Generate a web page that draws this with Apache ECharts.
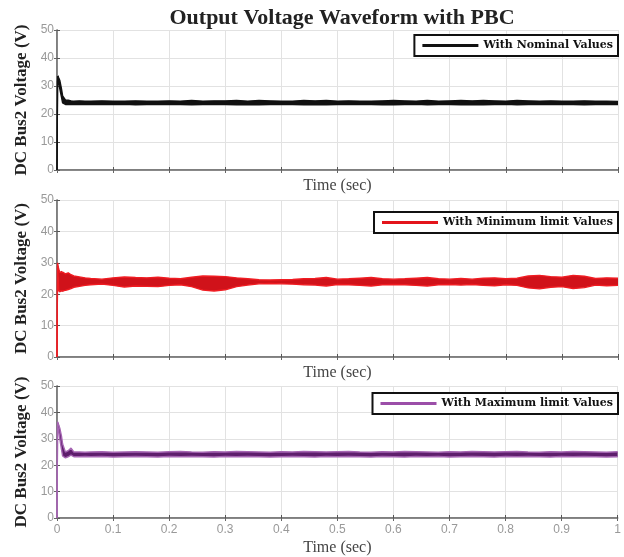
<!DOCTYPE html>
<html>
<head>
<meta charset="utf-8">
<script src="https://cdn.jsdelivr.net/npm/echarts@6/dist/echarts.min.js"></script>
<style>
html, body { margin: 0; padding: 0; background: #fff; }
#chart { width: 624px; height: 557px; }
</style>
</head>
<body>
<div id="chart"></div>
<script>
// time axis (sec), shared by all three traces
const time = [0, 0.001, 0.003, 0.005, 0.008, 0.01, 0.015, 0.02, 0.025, 0.03, 0.04, 0.05,
  0.06, 0.08, 0.1, 0.12, 0.14, 0.16, 0.18, 0.2, 0.22, 0.24,
  0.26, 0.28, 0.3, 0.32, 0.34, 0.36, 0.38, 0.4, 0.42, 0.44,
  0.46, 0.48, 0.5, 0.52, 0.54, 0.56, 0.58, 0.6, 0.62, 0.64,
  0.66, 0.68, 0.7, 0.72, 0.74, 0.76, 0.78, 0.8, 0.82, 0.84,
  0.86, 0.88, 0.9, 0.92, 0.94, 0.96, 0.98, 1.0];

// upper / lower envelope of each ripple band (V)
const nominalUpper = [0, 33.5, 33.8, 32, 29, 26.5, 25, 24.9, 24.7, 24.6, 24.7, 24.6,
  24.6, 24.7, 24.6, 24.6, 24.7, 24.6, 24.6, 24.7, 24.6, 24.8,
  24.6, 24.7, 24.7, 24.8, 24.6, 24.8, 24.7, 24.6, 24.6, 24.8,
  24.7, 24.8, 24.6, 24.7, 24.6, 24.6, 24.7, 24.8, 24.7, 24.6,
  24.8, 24.6, 24.7, 24.8, 24.7, 24.8, 24.7, 24.6, 24.8, 24.7,
  24.6, 24.7, 24.6, 24.6, 24.7, 24.6, 24.6, 24.5];
const nominalLower = [0, 32, 31, 29, 26, 24, 23.4, 23.5, 23.4, 23.4, 23.5, 23.4,
  23.5, 23.4, 23.4, 23.5, 23.3, 23.4, 23.5, 23.4, 23.4, 23.3,
  23.4, 23.5, 23.4, 23.3, 23.4, 23.3, 23.4, 23.5, 23.4, 23.3,
  23.4, 23.3, 23.4, 23.4, 23.5, 23.4, 23.3, 23.3, 23.4, 23.5,
  23.3, 23.4, 23.4, 23.3, 23.4, 23.3, 23.4, 23.5, 23.3, 23.4,
  23.4, 23.5, 23.4, 23.4, 23.3, 23.4, 23.5, 23.4];

const minimumUpper = [0, 30, 28, 27, 27.5, 27, 26.5, 26.8, 26.2, 25.8, 25.5, 25.2,
  25.0, 24.8, 25.2, 25.5, 25.3, 25.2, 25.4, 25.1, 24.9, 25.4,
  25.8, 25.7, 25.6, 25.2, 24.9, 24.6, 24.5, 24.6, 24.7, 24.9,
  25.0, 25.3, 24.8, 24.9, 25.1, 25.3, 24.9, 24.8, 24.9, 25.1,
  25.3, 24.9, 24.8, 25.0, 24.8, 25.1, 25.2, 24.9, 25.1, 25.8,
  26.0, 25.6, 25.4, 26.0, 25.7, 25.0, 25.2, 25.1];
const minimumLower = [0, 29, 21, 20.5, 21, 20.8, 21.2, 21.5, 21.8, 22.2, 22.5, 22.8,
  23.0, 23.2, 22.8, 22.3, 22.6, 22.5, 22.4, 22.8, 23.0, 22.4,
  21.3, 21.0, 21.4, 22.4, 22.9, 23.3, 23.4, 23.3, 23.2, 23.0,
  22.9, 22.6, 23.1, 23.0, 22.8, 22.6, 23.0, 23.1, 23.0, 22.8,
  22.6, 23.0, 23.1, 22.9, 23.1, 22.8, 22.7, 23.0, 22.8, 22.0,
  21.7, 22.2, 22.4, 21.8, 22.1, 22.9, 22.7, 22.8];

const maximumUpper = [0, 36.5, 36, 34, 31, 28, 25, 25.5, 26.5, 25, 25, 24.9,
  25.0, 25.1, 24.9, 25.0, 25.1, 25.0, 24.9, 25.1, 25.2, 25.0,
  24.9, 25.1, 25.0, 25.2, 25.1, 25.0, 24.9, 25.1, 25.0, 25.2,
  25.1, 25.0, 25.1, 25.2, 25.0, 24.9, 25.1, 25.0, 25.2, 25.1,
  25.0, 24.9, 25.1, 25.0, 25.2, 25.1, 25.0, 25.1, 25.2, 25.0,
  24.9, 25.1, 25.0, 25.2, 25.1, 25.0, 24.9, 25.1];
const maximumLower = [0, 35, 33, 30, 26, 23.5, 22.8, 23.2, 23.8, 23.2, 23.2, 23.3,
  23.2, 23.3, 23.1, 23.2, 23.3, 23.2, 23.1, 23.3, 23.2, 23.3,
  23.2, 23.1, 23.3, 23.2, 23.3, 23.2, 23.1, 23.2, 23.3, 23.2,
  23.1, 23.3, 23.2, 23.3, 23.2, 23.1, 23.3, 23.2, 23.1, 23.3,
  23.2, 23.3, 23.1, 23.2, 23.3, 23.2, 23.1, 23.3, 23.2, 23.3,
  23.2, 23.1, 23.3, 23.2, 23.3, 23.2, 23.1, 23.2];

const legendNames = ['With Nominal Values', 'With Minimum limit Values', 'With Maximum limit Values'];

// layout / style of each subplot
const panels = [
  { upper: nominalUpper, lower: nominalLower, fill: '#111111', edge: '#111111', legendColor: '#111111', top: 30, height: 140, legendTop: 35 },
  { upper: minimumUpper, lower: minimumLower, fill: '#d0121a', edge: '#f01c22', legendColor: '#e3141b', top: 200, height: 157, legendTop: 212 },
  { upper: maximumUpper, lower: maximumLower, fill: '#5e1e6c', edge: '#a565b2', legendColor: '#9b4ea8', top: 386, height: 137, legendTop: 393 }
];

const serif = '"Liberation Serif", "Times New Roman", serif';
const wideSerif = '"DejaVu Serif", serif';
const sans = '"Liberation Sans", Arial, sans-serif';

const grids = [], xAxes = [], yAxes = [], series = [], legends = [];

panels.forEach((p, i) => {
  grids.push({ left: 57, right: 6, top: p.top, height: p.height });

  xAxes.push({
    type: 'value', gridIndex: i, min: 0, max: 1, interval: 0.1,
    name: 'Time (sec)', nameLocation: 'middle', nameGap: i === 2 ? 22 : 8,
    nameTextStyle: { fontFamily: serif, fontSize: 16, color: '#444' },
    axisLine: { lineStyle: { color: '#555', width: 1.5 } },
    axisTick: { inside: true, length: 3, lineStyle: { color: '#555' } },
    axisLabel: { show: i === 2, fontFamily: sans, fontSize: 12, color: '#999', margin: 6 },
    splitLine: { show: true, lineStyle: { color: '#e2e2e2', width: 1 } }
  });
  yAxes.push({
    type: 'value', gridIndex: i, min: 0, max: 50, interval: 10,
    name: 'DC Bus2 Voltage (V)', nameLocation: 'middle', nameGap: 21,
    nameTextStyle: { fontFamily: serif, fontSize: 17, fontWeight: 'bold', color: '#222' },
    axisLine: { show: true, lineStyle: { color: '#555', width: 1.5 } },
    axisTick: { show: true, inside: true, length: 3, lineStyle: { color: '#555' } },
    axisLabel: { fontFamily: sans, fontSize: 12, color: '#999', margin: 3 },
    splitLine: { show: true, lineStyle: { color: '#e2e2e2', width: 1 } }
  });

  // filled ripple band between lower and upper envelope
  series.push({
    type: 'custom', xAxisIndex: i, yAxisIndex: i, silent: true, z: 3,
    data: [0],
    renderItem: (params, api) => {
      const top = time.map((t, k) => api.coord([t, p.upper[k]]));
      const bottom = time.map((t, k) => api.coord([t, p.lower[k]])).reverse();
      return { type: 'polygon', shape: { points: top.concat(bottom) }, style: { fill: p.fill } };
    }
  });
  // envelope outlines (also carry the legend entry)
  [p.upper, p.lower].forEach(arr => {
    series.push({
      name: legendNames[i], type: 'line', xAxisIndex: i, yAxisIndex: i,
      data: time.map((t, k) => [t, arr[k]]), showSymbol: false, symbol: 'none', z: 4,
      color: p.edge, lineStyle: { color: p.edge, width: 1.4 }
    });
  });

  legends.push({
    data: [{ name: legendNames[i], itemStyle: { color: p.legendColor } }],
    right: 6, top: p.legendTop, orient: 'horizontal',
    icon: 'rect', itemWidth: 56, itemHeight: 3, itemGap: 6,
    padding: [5, 5, 5, 8], borderColor: '#111', borderWidth: 2, backgroundColor: '#fff',
    selectedMode: false,
    textStyle: { fontFamily: wideSerif, fontWeight: 'bold', fontSize: 11, color: '#111' }
  });
});

// box frame: top and right axes with inward ticks
panels.forEach((p, i) => {
  xAxes.push({
    type: 'value', gridIndex: i, position: 'top', min: 0, max: 1, interval: 0.1,
    axisLine: { lineStyle: { color: '#888', width: 1 } },
    axisTick: { inside: true, length: 3, lineStyle: { color: '#666' } },
    axisLabel: { show: false }, splitLine: { show: false }
  });
  yAxes.push({
    type: 'value', gridIndex: i, position: 'right', min: 0, max: 50, interval: 10,
    axisLine: { show: true, lineStyle: { color: '#888', width: 1 } },
    axisTick: { show: true, inside: true, length: 3, lineStyle: { color: '#666' } },
    axisLabel: { show: false }, splitLine: { show: false }
  });
});

const chart = echarts.init(document.getElementById('chart'));
chart.setOption({
  animation: false,
  backgroundColor: '#fff',
  title: {
    text: 'Output Voltage Waveform with PBC', left: 337, textAlign: 'center', top: 2,
    textStyle: { fontFamily: serif, fontSize: 22, fontWeight: 'bold', color: '#222' }
  },
  legend: legends,
  grid: grids,
  xAxis: xAxes,
  yAxis: yAxes,
  series: series
});
</script>
</body>
</html>
